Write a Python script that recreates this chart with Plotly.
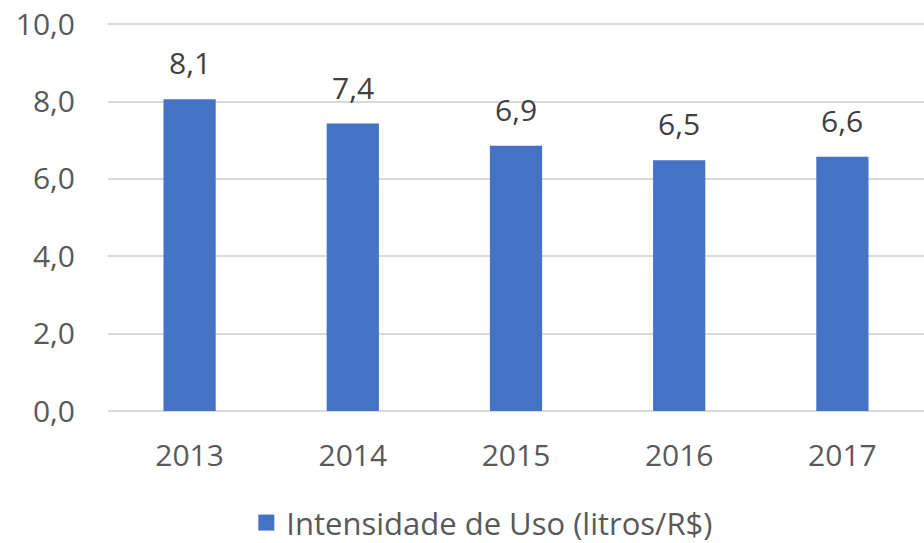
import plotly.graph_objects as go

years = [2013, 2014, 2015, 2016, 2017]
values = [8.06, 7.43, 6.86, 6.48, 6.57]
labels = ["8,1", "7,4", "6,9", "6,5", "6,6"]
series_name = "Intensidade de Uso (litros/R$)"
y_ticks = [0, 2, 4, 6, 8, 10]
y_tick_text = ["0,0", "2,0", "4,0", "6,0", "8,0", "10,0"]

FONT = "Open Sans"
TXT = "#595959"
BAR = "#4472C4"

fig = go.Figure()
fig.add_trace(go.Bar(
    x=years, y=values, name=series_name,
    marker=dict(color=BAR, line=dict(width=0)),
    width=0.32, showlegend=False,
))
# legend entry with a larger square swatch
fig.add_trace(go.Scatter(
    x=[None], y=[None], mode="markers", name=series_name,
    marker=dict(symbol="square", size=18, color=BAR),
    showlegend=True,
))

for yr, v, lab in zip(years, values, labels):
    fig.add_annotation(x=yr, y=v, text=lab, showarrow=False,
                       yanchor="bottom", yshift=14,
                       font=dict(family=FONT, size=30, color="#404040"))

fig.update_layout(
    width=924, height=543,
    margin=dict(l=108, r=0, t=23, b=132, autoexpand=False),
    paper_bgcolor="white", plot_bgcolor="white",
    font=dict(family=FONT, size=30, color=TXT),
    showlegend=True,
    legend=dict(orientation="h", xref="container", yref="container",
                x=0.522, xanchor="center", y=0.037, yanchor="middle",
                font=dict(family=FONT, size=31, color=TXT),
                itemwidth=30, tracegroupgap=0),
    xaxis=dict(type="linear", range=[years[0] - 0.5, years[-1] + 0.5],
               tickvals=years, ticktext=[str(y) for y in years],
               showgrid=False, showline=False, zeroline=False,
               ticks="", ticklabelstandoff=24,
               tickfont=dict(family=FONT, size=30, color=TXT)),
    yaxis=dict(range=[0, 10.03], tickvals=y_ticks, ticktext=y_tick_text,
               showgrid=True, gridcolor="#d9d9d9", gridwidth=2,
               zeroline=True, zerolinecolor="#d9d9d9", zerolinewidth=2,
               showline=False, ticks="", ticklabelstandoff=32,
               tickfont=dict(family=FONT, size=30, color=TXT)),
)

fig.write_html("out.html",
               config={"displayModeBar": False},
               post_script="document.body.style.margin='0';document.body.style.overflow='hidden';")
